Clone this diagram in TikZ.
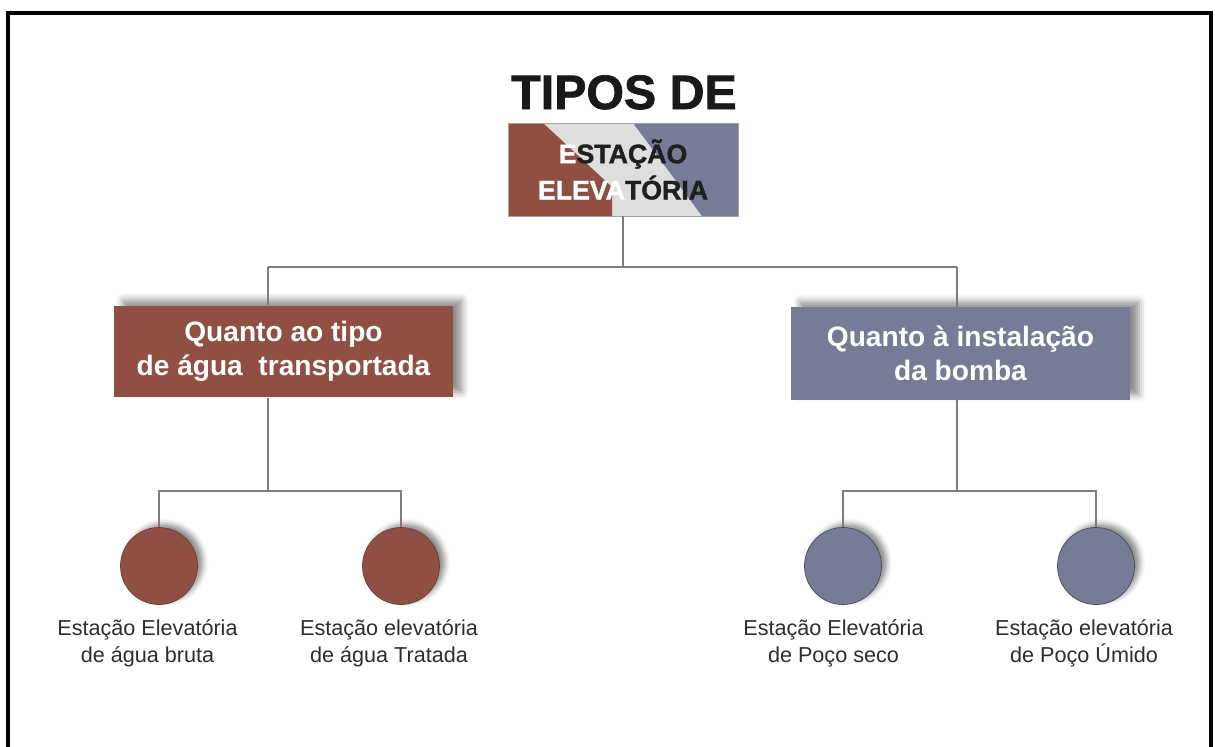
\documentclass[tikz,border=0pt]{standalone}
\usepackage{fontspec}
\setmainfont{Liberation Sans}
\newfontfamily\heavyfont[FakeBold=1.5]{Liberation Sans Bold}
\usetikzlibrary{shadows.blur}
\definecolor{rust}{RGB}{143,80,67}
\definecolor{slate}{RGB}{120,123,150}
\definecolor{mist}{RGB}{222,222,222}
\definecolor{wire}{RGB}{125,125,125}
\definecolor{ink}{RGB}{45,45,45}

\begin{document}
\begin{tikzpicture}[x=0.02cm, y=-0.02cm, wire/.style = {draw=wire, line width=0.6pt},
    box/.style = {minimum width=6.78cm, minimum height=1.84cm, inner sep=0pt, align=center, text=white,
        font=\bfseries\fontsize{16}{19.3}\selectfont, blur shadow={shadow xshift=5pt, shadow yshift=3pt, shadow blur radius=4pt, shadow opacity=45}},
    ball/.style = {circle, minimum size=1.54cm, inner sep=0pt, blur shadow={shadow xshift=3pt, shadow yshift=2pt, shadow blur radius=3pt, shadow opacity=45}},
    caption/.style = {anchor=north, align=center, inner sep=0pt, text=ink, font=\fontsize{12.3}{15.3}\selectfont}]
    \useasboundingbox (0,0) rectangle (1215,747);
    \draw[line width=2pt] (8,747) -- (8,13) -- (1211,13) -- (1211,747);

    % Three colour fields behind the top box
    \fill[mist] (508,123) rectangle (738,216);
    \fill[rust] (508,123) -- (543,123) -- (612,187) -- (612,216) -- (508,216) -- cycle;
    \fill[slate] (633,123) -- (738,123) -- (738,216) -- (702,216) -- cycle;

    % Nodes
    \node[anchor=base, font=\heavyfont\fontsize{27.5}{30}\selectfont, text=black!90] (0) at (624,109) {TIPOS DE};
    \node[minimum width=4.6cm, minimum height=1.86cm, inner sep=0pt, align=center, draw=wire!70,
        text=black!88, font=\heavyfont\fontsize{15.2}{20.6}\selectfont] (1) at (623,169.5) {{\color{white}E}STAÇÃO\\{\color{white}ELEVA}TÓRIA};

    \node[box, fill=rust] (2) at (283.5,351.5) {Quanto ao tipo\\de água\ \ transportada};
    \node[box, fill=slate, minimum height=1.86cm] (3) at (960.5,353.5) {Quanto à instalação\\da bomba};

    \node[ball, fill=rust, draw=rust!75!black] (4) at (159,566) {};
    \node[ball, fill=rust, draw=rust!75!black] (5) at (401,566) {};
    \node[ball, fill=slate, draw=slate!60!black] (6) at (843,566) {};
    \node[ball, fill=slate, draw=slate!60!black] (7) at (1096,566) {};

    \node[caption] (8) at (147.5,619) {Estação Elevatória\\de água bruta};
    \node[caption] (9) at (389,619) {Estação elevatória\\de água Tratada};
    \node[caption] (10) at (833.5,619) {Estação Elevatória\\de Poço seco};
    \node[caption] (11) at (1084,619) {Estação elevatória\\de Poço Úmido};

    \coordinate (j1) at (268,267);
    \coordinate (j2) at (957,267);
    \coordinate (j3) at (268,491);
    \coordinate (j4) at (957,491);

    % Edges
    \draw[wire] (1.south) -- (1.south |- j1);
    \draw[wire] (j1) -- (j2);
    \draw[wire] (j1) -- (j1 |- 2.north);
    \draw[wire] (j2) -- (j2 |- 3.north);
    \draw[wire] (j3 |- 2.south) -- (j3);
    \draw[wire] (j4 |- 3.south) -- (j4);
    \draw[wire] (4.north) |- (j3) -| (5.north);
    \draw[wire] (6.north) |- (j4) -| (7.north);
\end{tikzpicture}
\end{document}
